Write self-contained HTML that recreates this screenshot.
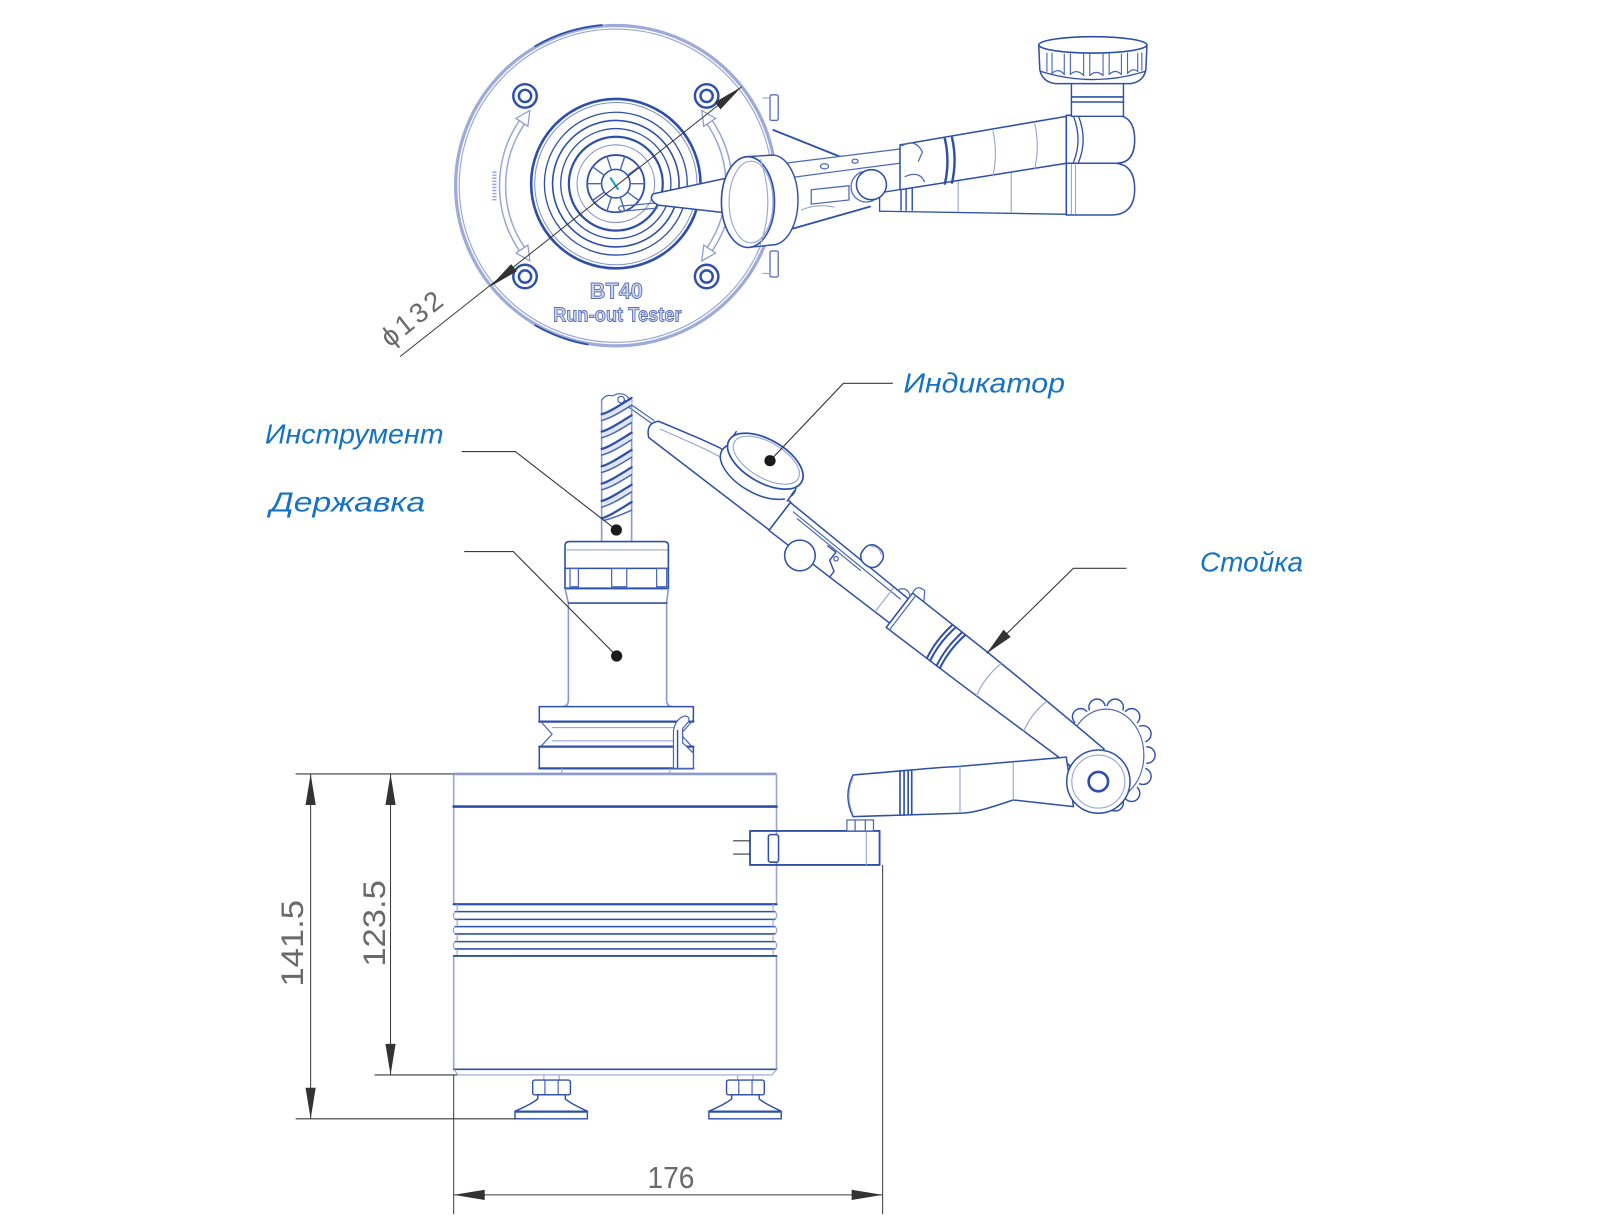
<!DOCTYPE html>
<html><head><meta charset="utf-8"><title>BT40 Run-out Tester</title>
<style>
html,body{margin:0;padding:0;background:#fff;width:1600px;height:1223px;overflow:hidden}
svg{display:block}
.d{stroke:#2e50a8;stroke-width:1.8;fill:none;stroke-linejoin:round;stroke-linecap:round}
.m{stroke:#4a66b6;stroke-width:1.2;fill:none;stroke-linecap:round}
.l{stroke:#97a4d5;stroke-width:1.1;fill:none}
.k{stroke:#3a3a3a;stroke-width:1.1;fill:none}
.w{fill:#fff}
.lab{font-family:"Liberation Sans",sans-serif;font-style:italic;font-size:27px;fill:#1672c2}
.dim{font-family:"Liberation Sans","DejaVu Sans",sans-serif;font-size:31px;fill:#6a6a6a}
</style></head><body>
<svg width="1600" height="1223" viewBox="0 0 1568 1198.6" xmlns="http://www.w3.org/2000/svg">
<rect x="0" y="0" width="1568" height="1198.6" fill="#fff"/>

<!-- ================= TOP VIEW ================= -->
<circle cx="603.5" cy="182" r="157" stroke="#9eaad8" stroke-width="3.2" fill="none"/>
<circle cx="603.5" cy="182" r="153.5" class="l"/>
<path d="M524.5,45.2 A158,158 0 0 1 589.7,24.6" class="d"/>
<path d="M576.1,337.6 A158,158 0 0 1 524.5,318.8" class="d"/>

<g fill="none" stroke="#2e50a8" style="stroke-width:2.4">
<circle cx="514.5" cy="94" r="11.5"/><circle cx="514.5" cy="94" r="6"/>
<circle cx="692.5" cy="94" r="11.5"/><circle cx="692.5" cy="94" r="6"/>
<circle cx="514.5" cy="271" r="11.5"/><circle cx="514.5" cy="271" r="6"/>
<circle cx="692.5" cy="271" r="11.5"/><circle cx="692.5" cy="271" r="6"/>
</g>

<path d="M511.5,119.9 A111,111 0 0 0 511.5,244.1" stroke="#9aa7d6" stroke-width="7.5" fill="none"/>
<path d="M511.5,119.9 A111,111 0 0 0 511.5,244.1" stroke="#fff" stroke-width="4.5" fill="none"/>
<polygon points="519.3,108.3 517.3,123.8 505.7,116" fill="#fff" stroke="#8a99d0" stroke-width="1.2"/>
<polygon points="519.3,255.7 517.3,240.2 505.7,248" fill="#fff" stroke="#8a99d0" stroke-width="1.2"/>
<path d="M695.5,119.9 A111,111 0 0 1 695.5,244.1" stroke="#9aa7d6" stroke-width="7.5" fill="none"/>
<path d="M695.5,119.9 A111,111 0 0 1 695.5,244.1" stroke="#fff" stroke-width="4.5" fill="none"/>
<polygon points="687.7,108.3 701.3,116 689.7,123.8" fill="#fff" stroke="#8a99d0" stroke-width="1.2"/>
<polygon points="687.7,255.7 701.3,248 689.7,240.2" fill="#fff" stroke="#8a99d0" stroke-width="1.2"/>
<path d="M484.5,168 L484.5,197" stroke="#95a3d4" stroke-width="4" stroke-dasharray="1.4 1.6" fill="none"/>

<g fill="none" stroke="#2e50a8">
<circle cx="603.5" cy="180" r="83" stroke-width="2.6"/>
<circle cx="603.5" cy="180" r="79.5" stroke-width="1" stroke="#7e90cc"/>
<circle cx="603.5" cy="180" r="70" stroke-width="1.3"/>
<circle cx="603.5" cy="180" r="62" stroke-width="1.6"/>
<circle cx="603.5" cy="180" r="54" stroke-width="1.3"/>
<circle cx="603.5" cy="180" r="46" stroke-width="2.2"/>
<circle cx="603.5" cy="180" r="38" stroke-width="1" stroke="#7e90cc"/>
<circle cx="603.5" cy="180" r="28" stroke-width="1.8"/>
<circle cx="603.5" cy="180" r="14" stroke-width="1.5"/>
</g>
<path d="M617.5,180 L631.5,180 M614.8,188.2 L626.2,196.5 M607.8,193.3 L612.2,206.6 M599.2,193.3 L594.8,206.6 M592.2,188.2 L580.8,196.5 M589.5,180 L575.5,180 M592.2,171.8 L580.8,163.5 M599.2,166.7 L594.8,153.4 M607.8,166.7 L612.2,153.4 M614.8,171.8 L626.2,163.5" class="m" style="stroke-width:1.4"/>
<path d="M598,174 L606,186" stroke="#22a6dd" stroke-width="2.2" fill="none"/>

<path d="M392,349.5 L726.8,85" class="k" style="stroke-width:1"/>
<polygon points="480.2,281 506.5,265.8 500.9,258.8" fill="#333"/>
<polygon points="726.8,85 706.1,107.2 700.5,100.2" fill="#333"/>
<text class="dim" x="382" y="341" transform="rotate(-38.5 382 341)" style="font-size:27px;letter-spacing:3px">ϕ132</text>

<text x="604" y="292.4" text-anchor="middle" textLength="52" lengthAdjust="spacingAndGlyphs" style="font-family:'Liberation Sans',sans-serif;font-weight:bold;font-size:22px" fill="#cdd4ee" stroke="#5b70b4" stroke-width="0.9">BT40</text>
<text x="605" y="315" text-anchor="middle" textLength="126" lengthAdjust="spacingAndGlyphs" style="font-family:'Liberation Sans',sans-serif;font-weight:bold;font-size:20px" fill="#cdd4ee" stroke="#5b70b4" stroke-width="0.9">Run-out Tester</text>

<rect x="754.6" y="93" width="8" height="25" rx="1.5" class="m w"/>
<rect x="754.6" y="246" width="8" height="25.5" rx="1.5" class="m w"/>
<path d="M747,96 L754.6,96 M747,268 L754.6,268" class="l"/>

<path d="M757.9,127.4 L823.2,153.5" class="d"/>
<path d="M761,228.6 L852.6,202.5" class="d"/>

<path d="M862,189 L1045,160 L1045,210 L862,207 Z" class="d w" style="stroke-width:1.3"/>
<path d="M939,172 L939,208 M991,165 L991,208" class="l"/>
<path d="M883,186 L883,206 M888,185 L888,206 M894,184 L894,206" class="d" style="stroke-width:1.4"/>
<path d="M761,161 L882,146 L882,160 L820,168 L776,174" class="m w"/>
<ellipse cx="808" cy="163" rx="4" ry="2.5" class="m"/>
<ellipse cx="838" cy="158" rx="3" ry="2" class="m"/>
<path d="M795,186 L832,182 L832,196 L795,200 Z" class="m w"/>
<path d="M785,206 Q800,199 818,203" class="l"/>
<path d="M882,142 L1045,114 L1045,160 L882,186 Z" class="d w" style="stroke-width:1.5"/>
<path d="M926,136 Q931,158 926,180 M933,135 Q938,157 933,179" class="d" style="stroke-width:2.4"/>
<path d="M973,128 Q978,150 973,173 M1014,121 Q1019,143 1014,166" class="l"/>
<path d="M884,143 Q897,135 904,149 L900,158 M887,173 Q901,167 906,178" class="m"/>
<path d="M1045,160 L1094,160 Q1112,162 1112,185 Q1112,210 1090,210.7 L1045,210.7 Z" class="d w" style="stroke-width:1.5"/>
<path d="M1050,161 L1050,210 M1054,161 L1054,210" class="l"/>
<path d="M1045,113 L1094,112.7 Q1112,114 1112,137 Q1112,160 1094,160 L1045,160 Z" class="d w" style="stroke-width:1.5"/>
<path d="M1052,114 Q1061,137 1052,159 M1057,114 Q1066,137 1057,159" class="d" style="stroke-width:1.3"/>
<rect x="1050" y="80" width="51" height="34" class="d w" style="stroke-width:1.4"/>
<path d="M1050,95 L1101,95 M1050,100 L1101,100" class="d" style="stroke-width:1.5"/>
<path d="M1018,44 L1019,68 Q1021,80 1034,82 L1108,82 Q1121,80 1123,68 L1124,44 Z" class="d w" style="stroke-width:1.5"/>
<ellipse cx="1071" cy="44" rx="53" ry="8" class="d w" style="stroke-width:1.6"/>
<path d="M1026,52 L1026,70 M1031,52 L1031,72 M1043,53 L1043,73 M1049,53 L1049,73 M1062,53 L1062,74 M1068,53 L1068,74 M1081,53 L1081,74 M1087,53 L1087,73 M1099,53 L1099,73 M1105,52 L1105,72 M1115,52 L1115,70 M1119,52 L1119,69" class="m" style="stroke-width:1.1"/>
<path d="M1031,72 Q1037,66 1043,73 M1049,73 Q1055,67 1062,74 M1068,74 Q1074,68 1081,74 M1087,73 Q1093,67 1099,73 M1105,72 Q1110,66 1115,70" class="m"/>
<path d="M1020,70 Q1071,86 1122,70" class="d" style="stroke-width:1.3"/>
<circle cx="849" cy="183" r="15" class="m w"/>
<circle cx="854" cy="181" r="14.7" class="d w" style="stroke-width:1.5"/>
<path d="M608,202 L642,199 M609,207 L644,204 M608,202 Q604,204.5 609,207" class="m"/>
<path d="M640,190 L715,174 L715,209 L645,201 Q635,196 640,190 Z" class="d w" style="stroke-width:1.5"/>
<ellipse cx="757" cy="196" rx="25" ry="44" class="d w" style="stroke-width:1.4"/>
<rect x="733" y="153" width="24" height="88" fill="#fff"/>
<path d="M733,153.5 L757,152 M733,242.5 L757,240" class="d" style="stroke-width:1.4"/>
<ellipse cx="733" cy="198" rx="26" ry="44.5" class="d w" style="stroke-width:1.6"/>
<ellipse cx="736" cy="198" rx="21.5" ry="40" class="l"/>
<path d="M745,156 Q760,198 745,240" class="l"/>

<!-- ================= SIDE VIEW ================= -->
<g fill="#fff" stroke="#2e50a8" stroke-width="1.4">
<circle cx="1124" cy="740" r="8"/><circle cx="1120.1" cy="760.8" r="8"/><circle cx="1109" cy="777.5" r="8"/>
<circle cx="1092.9" cy="786.8" r="8"/><circle cx="1075.1" cy="786.8" r="8"/><circle cx="1059" cy="777.5" r="8"/>
<circle cx="1048" cy="760.8" r="8"/><circle cx="1044" cy="740" r="8"/><circle cx="1048" cy="719.2" r="8"/>
<circle cx="1059" cy="702.5" r="8"/><circle cx="1075.1" cy="693.2" r="8"/><circle cx="1092.9" cy="693.2" r="8"/>
<circle cx="1109" cy="702.5" r="8"/><circle cx="1120.1" cy="719.2" r="8"/>
</g>
<ellipse cx="1084" cy="740" rx="40" ry="48" fill="#fff"/>
<ellipse cx="1084" cy="740" rx="37" ry="45" class="m"/>

<g transform="translate(640,410) rotate(37.5)">
 <path d="M306,-19 L400,-17.7 Q460,-16 548,-12 L548,21 Q460,22.5 400,23 L306,23.5 Z" class="d w" style="stroke-width:1.5"/>
 <path d="M356,-18 Q352,3 356,23.2 M360,-18 Q356,3 360,23.2 M368,-17.9 Q364,3 368,23.1 M372,-17.9 Q368,3 372,23.1" class="d" style="stroke-width:2"/>
 <path d="M417,-17.4 Q412,3 417,23 M475,-15 Q470,4 475,22.3" class="l"/>
 <path d="M306,-19 Q304,-29 314,-28 L320,-19 M310,-19 L310,23.5" class="m"/>
 <path d="M-35,2.8 L2,1.2 M-35,6.2 L2,4.8" class="m"/>
 <circle cx="-36" cy="4.5" r="3.2" class="m w"/>
 <path d="M6,-1 L48,-12 L70,-17 L157,-17 L157,17.5 L8,17.5 Q-3,8 6,-1 Z" class="d w" style="stroke-width:1.5"/>
 <path d="M12,4 L58,-7 L75,-10" class="l"/>
 <path d="M157,-16.5 L306,-12 L306,18 L157,18 Z" class="d w" style="stroke-width:1.5"/>
 <path d="M165,-11 L300,-7 M172,-8 L252,-5.5" class="m"/>
 <path d="M212,-5 L222,-5 L222,5 L232,11 L232,18" class="d" style="stroke-width:1.4"/>
 <circle cx="226" cy="0" r="2.2" class="m"/>
 <path d="M288,-12 L288,18" class="l"/>
 <path d="M292,-12 Q298,-22 306,-15" class="m"/>
 <circle cx="196" cy="19" r="15" class="d w" style="stroke-width:1.5"/>
 <rect x="242" y="-34" width="21" height="21" rx="9" class="d w" style="stroke-width:1.5"/>
 <path d="M246,-30 Q252,-36 259,-30" class="l"/>
</g>

<ellipse cx="743" cy="462" rx="41" ry="21" transform="rotate(30 743 462)" class="d w" style="stroke-width:1.5"/>
<polygon points="714.5,433 721.5,423 778.5,481 771.5,491" fill="#fff"/>
<path d="M714.5,433 L721.5,423 M771.5,491 L778.5,481" class="d" style="stroke-width:1.4"/>
<ellipse cx="750" cy="452" rx="41" ry="21" transform="rotate(30 750 452)" class="d w" style="stroke-width:1.7"/>
<ellipse cx="751" cy="451" rx="36" ry="17.5" transform="rotate(30 751 451)" class="l"/>

<!-- tool -->
<path d="M589.6,392 L589.6,530 M619,392 L619,530" stroke="#8a98cc" stroke-width="1.6" fill="none"/>
<path d="M589.6,392 Q594,386 600,388 L605,386 Q612,385 616,390 L619,392" class="m"/>
<g fill="#dfe5f6" stroke="none">
<path d="M589.6,406 C597,404 606,398 619,390 L619,397 C608,404 598,410 589.6,412 Z"/>
<path d="M589.6,423 C597,421 606,415 619,407 L619,414 C608,421 598,427 589.6,429 Z"/>
<path d="M589.6,440 C597,438 606,432 619,424 L619,431 C608,438 598,444 589.6,446 Z"/>
<path d="M589.6,457 C597,455 606,449 619,441 L619,448 C608,455 598,461 589.6,463 Z"/>
<path d="M589.6,474 C597,472 606,466 619,458 L619,465 C608,472 598,478 589.6,480 Z"/>
<path d="M589.6,491 C597,489 606,483 619,475 L619,482 C608,489 598,495 589.6,497 Z"/>
</g>
<g class="d" style="stroke-width:2.2">
<path d="M589.6,406 C597,404 606,398 619,390"/>
<path d="M589.6,423 C597,421 606,415 619,407"/>
<path d="M589.6,440 C597,438 606,432 619,424"/>
<path d="M589.6,457 C597,455 606,449 619,441"/>
<path d="M589.6,474 C597,472 606,466 619,458"/>
<path d="M589.6,491 C597,489 606,483 619,475"/>
<path d="M589.6,508 C597,506 606,500 619,492"/>
</g>
<g class="m" style="stroke-width:1.5">
<path d="M589.6,412 C598,410 608,404 619,397"/>
<path d="M589.6,429 C598,427 608,421 619,414"/>
<path d="M589.6,446 C598,444 608,438 619,431"/>
<path d="M589.6,463 C598,461 608,455 619,448"/>
<path d="M589.6,480 C598,478 608,472 619,465"/>
<path d="M589.6,497 C598,495 608,489 619,482"/>
<path d="M592,510 C600,508 610,504 619,500"/>
</g>

<!-- collet nut -->
<path d="M553.7,535 Q553.7,530.8 558,530.8 L651,530.8 Q655,530.8 655,535 L655,576.6 L553.7,576.6 Z" class="d w" style="stroke-width:1.6"/>
<path d="M555,539 L654,539" class="l"/>
<path d="M553.7,557 L655,557" class="d" style="stroke-width:1.5"/>
<rect x="558.6" y="557" width="8.2" height="18" class="m"/>
<rect x="599.4" y="557" width="14.8" height="18" class="m"/>
<rect x="643.5" y="557" width="9.8" height="18" class="m"/>
<path d="M553.7,576.6 L655,576.6" class="d" style="stroke-width:2"/>
<path d="M553.7,576.6 L557,591 L557,686 Q557,692.5 551,692.5 M655,576.6 L653.3,591 L653.3,686 Q653.3,692.5 659,692.5" stroke="#8a98cc" stroke-width="1.6" fill="none"/>
<path d="M557,591 L653.3,591" class="d" style="stroke-width:1.6"/>
<rect x="528.5" y="692.5" width="151" height="14.7" class="d w" style="stroke-width:1.5"/>
<path d="M528.5,707.2 L679.5,707.2" class="d" style="stroke-width:2.2"/>
<path d="M530,707.2 L541,719.5 L530,731.7 M678,707.2 L667,719.5 L678,731.7" class="m"/>
<path d="M541,713 L667,713 M541,726 L667,726" class="l"/>
<rect x="528.5" y="731.7" width="151" height="21.3" class="d w" style="stroke-width:1.5"/>
<path d="M528.5,731.7 L679.5,731.7 M528.5,753 L679.5,753" class="d" style="stroke-width:2.2"/>
<path d="M660,753 L660,716 Q662,705 670,702 Q676,701 675,707 L669,714 L669,728 L679.5,738 L679.5,753 Z" class="m w"/>
<path d="M664,716 L664,752" class="d" style="stroke-width:1.4"/>
<path d="M550.5,753 L550.5,758.5 M656.6,753 L656.6,758.5" class="l"/>

<!-- base -->
<path d="M444.6,758.5 L761,758.5" stroke="#8a99d0" stroke-width="2.6" fill="none"/>
<path d="M444.6,758.5 L444.6,886 M761,758.5 L761,886 M444.6,937 L444.6,1048 M761,937 L761,1048" stroke="#9aa6d6" stroke-width="1.6" fill="none"/>
<path d="M444.6,790.5 L761,790.5" class="d" style="stroke-width:2.6"/>
<path d="M444.6,886.2 L761,886.2" class="d" style="stroke-width:2.2"/>
<path d="M446,893.4 L759.5,893.4 M446,901 L759.5,901 M446,908.1 L759.5,908.1 M446,915.3 L759.5,915.3 M446,922.8 L759.5,922.8 M446,930 L759.5,930" class="d" style="stroke-width:1.5"/>
<path d="M446,893.4 Q442.5,897.2 446,901 M446,908.1 Q442.5,911.7 446,915.3 M446,922.8 Q442.5,926.4 446,930 M759.5,893.4 Q763,897.2 759.5,901 M759.5,908.1 Q763,911.7 759.5,915.3 M759.5,922.8 Q763,926.4 759.5,930" class="l"/>
<path d="M448,886.2 L448,893.4 M448,901 L448,908.1 M448,915.3 L448,922.8 M448,930 L448,936.9 M757.6,886.2 L757.6,893.4 M757.6,901 L757.6,908.1 M757.6,915.3 L757.6,922.8 M757.6,930 L757.6,936.9" class="l"/>
<path d="M444.6,936.9 L761,936.9" class="d" style="stroke-width:1.8"/>
<path d="M444.6,1048 L761,1048" class="d" style="stroke-width:1.6"/>
<path d="M444.6,1048 L449,1053.5 L756.6,1053.5 L761,1048" class="l"/>

<!-- feet -->
<g>
<path d="M533,1053.5 L533,1058.5 M548,1053.5 L548,1058.5" class="l"/>
<rect x="522" y="1058.5" width="37" height="14.5" rx="2" class="d w" style="stroke-width:1.4"/>
<path d="M534,1058.5 L534,1073 M547,1058.5 L547,1073" class="m"/>
<path d="M527,1073 L554,1073 L554,1077 Q560,1082 575.6,1089 L575.6,1096.5 L504.7,1096.5 L504.7,1089 Q521,1082 527,1077 Z" class="d w" style="stroke-width:1.4"/>
<path d="M506,1089.5 L574,1089.5" class="d" style="stroke-width:2.2"/>
</g>
<g transform="translate(190,0)">
<path d="M533,1053.5 L533,1058.5 M548,1053.5 L548,1058.5" class="l"/>
<rect x="522" y="1058.5" width="37" height="14.5" rx="2" class="d w" style="stroke-width:1.4"/>
<path d="M534,1058.5 L534,1073 M547,1058.5 L547,1073" class="m"/>
<path d="M527,1073 L554,1073 L554,1077 Q560,1082 575.6,1089 L575.6,1096.5 L504.7,1096.5 L504.7,1089 Q521,1082 527,1077 Z" class="d w" style="stroke-width:1.4"/>
<path d="M506,1089.5 L574,1089.5" class="d" style="stroke-width:2.2"/>
</g>

<!-- clamp -->
<rect x="735" y="814.4" width="127" height="33.3" class="d" style="stroke-width:1.8"/>
<path d="M849,814.4 L849,847.7" class="l"/>
<rect x="753" y="818" width="10" height="27" rx="2" class="d w" style="stroke-width:1.5"/>
<path d="M718.5,824 L735,824 M718.5,837 L735,837" class="k"/>
<rect x="830" y="803.6" width="26" height="10.8" class="m w"/>
<path d="M838,803.6 L838,814.4 M848,803.6 L848,814.4" class="m"/>

<!-- lower arm -->
<path d="M836,759.5 C880,756 925,751.3 937.6,751.3 L1045,742 L1052,790.5 L993,784 C975,790 955,797 940.8,797 L836,800.3 Q826,780 836,759.5 Z" class="d w" style="stroke-width:1.5"/>
<path d="M836,762 Q828,780 836,798" class="l"/>
<path d="M882,756 L882,799 M886,755.5 L886,799 M890,755 L890,798.5 M893.5,754.8 L893.5,798.5" class="d" style="stroke-width:1.6"/>
<path d="M940.8,751 L940.8,797 M993,747 L993,784" class="l"/>

<circle cx="1076.4" cy="766" r="31" class="d w" style="stroke-width:1.5"/>
<circle cx="1076.4" cy="766" r="26" class="l"/>
<circle cx="1076.4" cy="766" r="9.5" class="d" style="stroke-width:2.6"/>

<!-- ================= DIMENSIONS ================= -->
<g class="k" style="stroke-width:1">
<path d="M289.7,758.5 L444.6,758.5"/>
<path d="M289.7,1096.5 L504.7,1096.5"/>
<path d="M367,1053.5 L448,1053.5"/>
<path d="M304.4,758.5 L304.4,1096.5"/>
<path d="M382.7,758.5 L382.7,1053.5"/>
<path d="M444.6,1053.5 L444.6,1190"/>
<path d="M865,847.7 L865,1190"/>
<path d="M444.6,1171 L865,1171"/>
</g>
<g fill="#333">
<polygon points="304.4,758.5 299.4,789 309.4,789"/>
<polygon points="304.4,1096.5 299.4,1066 309.4,1066"/>
<polygon points="382.7,758.5 377.7,789 387.7,789"/>
<polygon points="382.7,1053.5 377.7,1023 387.7,1023"/>
<polygon points="444.6,1171 475,1166 475,1176"/>
<polygon points="865,1171 834.6,1166 834.6,1176"/>
</g>
<text class="dim" transform="translate(297,924.5) rotate(-90)" text-anchor="middle" textLength="85" lengthAdjust="spacingAndGlyphs">141.5</text>
<text class="dim" transform="translate(377.5,905) rotate(-90)" text-anchor="middle" textLength="85" lengthAdjust="spacingAndGlyphs">123.5</text>
<text class="dim" x="634.5" y="1164.5" textLength="46" lengthAdjust="spacingAndGlyphs" style="font-size:30px">176</text>

<!-- ================= LEADERS & LABELS ================= -->
<g class="k" style="stroke-width:1.1">
<path d="M452.4,442.6 L505,442.6 L604,519.4"/>
<path d="M455,540.6 L503,540.6 L604.3,642.9"/>
<path d="M754.6,451.5 L826.5,375.7 L875,375.7"/>
<path d="M967,640.3 L1051.9,557 L1104,557"/>
</g>
<polygon points="967,640.3 990.5,624.3 983.5,617.1" fill="#333"/>
<g fill="#1b1b1b">
<circle cx="604" cy="519.4" r="5.5"/>
<circle cx="604.3" cy="642.9" r="5.5"/>
<circle cx="754.6" cy="451.5" r="5.5"/>
</g>
<text class="lab" x="259.7" y="434.5" textLength="175" lengthAdjust="spacingAndGlyphs">Инструмент</text>
<text class="lab" x="264.6" y="501.4" textLength="152" lengthAdjust="spacingAndGlyphs">Державка</text>
<text class="lab" x="885.3" y="384.8" textLength="158.4" lengthAdjust="spacingAndGlyphs">Индикатор</text>
<text class="lab" x="1176" y="560" textLength="101" lengthAdjust="spacingAndGlyphs">Стойка</text>
</svg>
</body></html>
